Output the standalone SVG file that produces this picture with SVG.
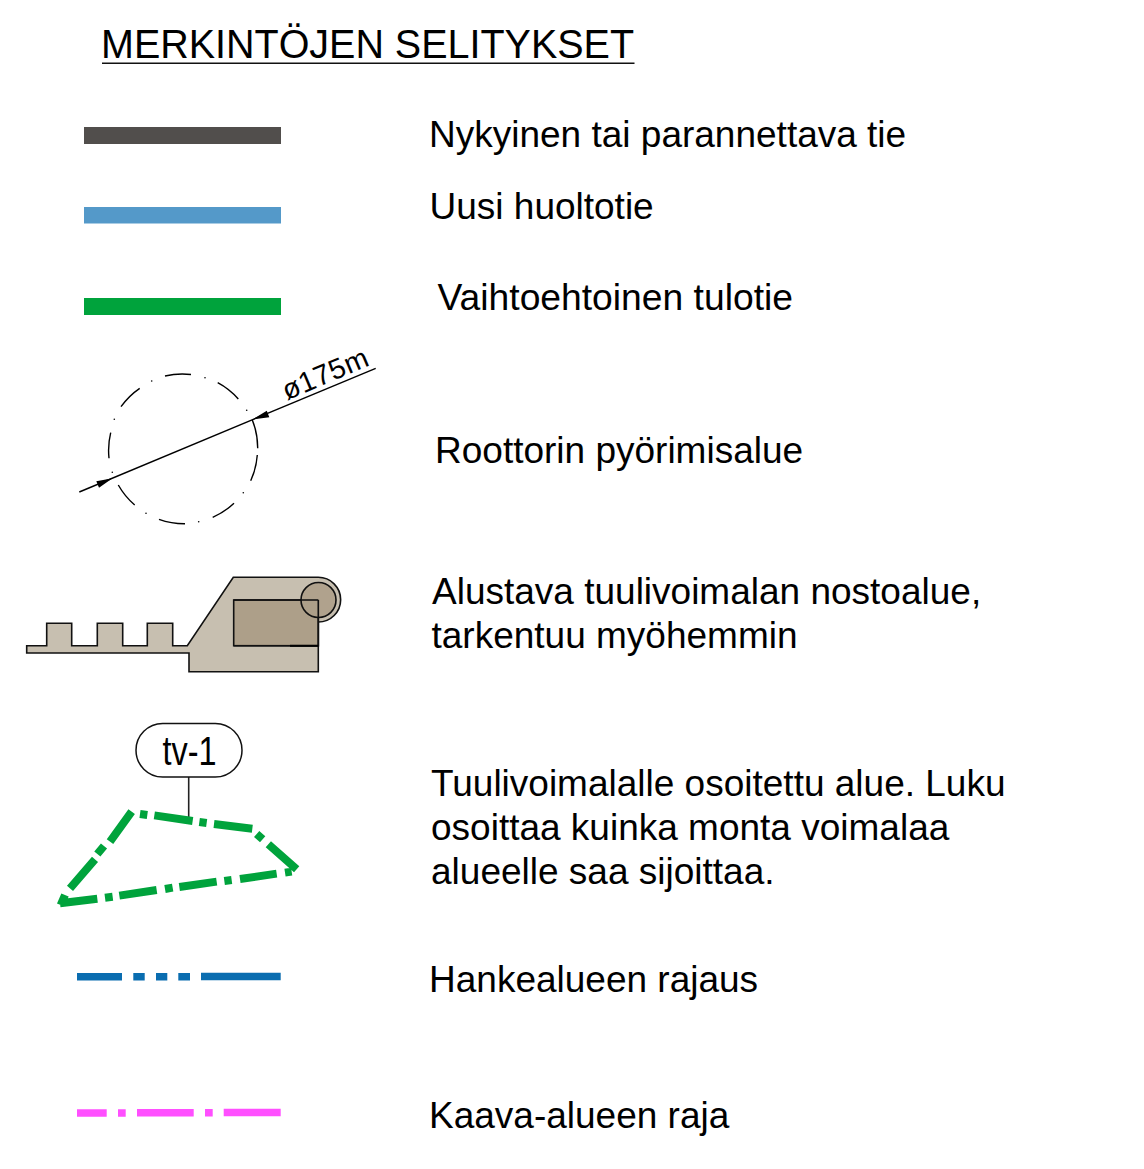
<svg xmlns="http://www.w3.org/2000/svg" width="1144" height="1169" viewBox="0 0 1144 1169">
<style>
text{font-family:"Liberation Sans",Arial,sans-serif;fill:#000}
.l{font-size:37px}
.bar{stroke:none}
.thin{fill:none;stroke:#000;stroke-width:1.4}
.key{stroke:#111;stroke-width:1.6}
.gd{fill:none;stroke:#00a33c;stroke-width:24}
</style>
<rect width="1144" height="1169" fill="#fff"/>
<g id="title"><text x="101" y="57.500" font-size="40" textLength="533" lengthAdjust="spacingAndGlyphs">MERKINTÖJEN SELITYKSET</text><path d="M102 63.200H634.500" stroke="#111" stroke-width="1.500" fill="none"/></g>
<g id="road-existing"><rect class="bar" x="84" y="127" width="197" height="17" fill="#514e4c"/><text class="l" x="429" y="147">Nykyinen tai parannettava tie</text></g>
<g id="road-new"><rect class="bar" x="84" y="207" width="197" height="16.500" fill="#5499c9"/><text class="l" x="429.500" y="219">Uusi huoltotie</text></g>
<g id="road-alt"><rect class="bar" x="84" y="298" width="197" height="17" fill="#00a33c"/><text class="l" x="437.500" y="310" textLength="355.500" lengthAdjust="spacingAndGlyphs">Vaihtoehtoinen tulotie</text></g>
<g id="rotor">
<path class="thin" d="M165 376A75 75 0 0 1 191 374.500M217.700 382.700A75 75 0 0 1 238.300 399M252.300 420A75 75 0 0 1 257.700 448.300M257.300 455A75 75 0 0 1 250.700 480.700M234 503.300A75 75 0 0 1 212.700 517.300M185 523.700A75 75 0 0 1 159 519.300M134.700 505A75 75 0 0 1 118.300 485M109 458.300A75 75 0 0 1 110.700 432.700M121 406.700A75 75 0 0 1 139.700 388.300"/>
<g fill="#000"><circle cx="151.700" cy="381" r=".8"/><circle cx="205" cy="377.700" r=".8"/><circle cx="246.700" cy="410.300" r=".8"/><circle cx="114.300" cy="419.300" r=".8"/><circle cx="112.300" cy="472.300" r=".8"/><circle cx="146" cy="513.300" r=".8"/><circle cx="198.700" cy="521.700" r=".8"/><circle cx="243.300" cy="492.700" r=".8"/></g>
<path class="thin" d="M79.300 492L375.700 368.300"/>
<path d="M112.500 478.300L99 487.800L96.300 481.300Z M252.700 419.400L269.300 417.300L266.800 410.700Z" fill="#000"/>
<text x="287" y="400.500" font-size="28.500" letter-spacing=".5" transform="rotate(-23 287 400.500)">ø175m</text>
<text class="l" x="435" y="463">Roottorin pyörimisalue</text>
</g>
<g id="lift-area">
<path class="key" fill="#c7bfb0" d="M26.700 645.700V653H189V671.700H318.300V622A22.300 22.300 0 0 0 318.300 577.300H233.300L187.300 645.700H172.700V623.300H147.300V645.700H122.700V623.300H97.300V645.700H71.700V623.300H46.700V645.700Z"/>
<rect class="key" x="233.700" y="600" width="84.600" height="45.700" fill="#ad9f89"/>
<circle class="key" cx="318.500" cy="600" r="17.500" fill="#ad9f89" fill-opacity=".9"/>
<path class="key" fill="none" d="M318.300 600V645.700H233.700M233.700 600H318.300"/>
<path d="M290 645.800H318.300" stroke="#000" stroke-width="2" fill="none"/>
<text class="l"><tspan x="432" y="604">Alustava tuulivoimalan nostoalue,</tspan><tspan x="431.500" y="648">tarkentuu myöhemmin</tspan></text>
</g>
<g id="turbine-area">
<path d="M188.700 776.700V817" stroke="#222" stroke-width="1.600" fill="none"/>
<rect x="136" y="723.500" width="106" height="53.500" rx="26.700" fill="#fff" stroke="#111" stroke-width="1.500"/>
<text x="162.500" y="765" font-size="41" textLength="54" lengthAdjust="spacingAndGlyphs">tv-1</text>
<path class="gd" transform="translate(40 710) scale(.33333)" d="M300 312L322 315M343 316L458 333M478 336L500 339M522 342L637 356M650 372L668 388M685 403L770 478M755 485L735 488M710 491L600 507M575 510L553 513M530 515L418 531M398 533L375 537M350 540L238 557M218 560L195 563M172 566L60 580M62 585L75 555M90 535L165 448M172 432L192 408M210 395L275 305"/>
<text class="l"><tspan x="431" y="796">Tuulivoimalalle osoitettu alue. Luku</tspan><tspan x="431" y="840">osoittaa kuinka monta voimalaa</tspan><tspan x="431" y="884">alueelle saa sijoittaa.</tspan></text>
</g>
<g id="project-boundary">
<path d="M77 976.700H122M133.300 976.700H144.700M156 976.700H167.300M178.300 976.700H190M201 976.500H280.700" stroke="#0a6db0" stroke-width="7.500" fill="none"/>
<text class="l" x="429" y="992">Hankealueen rajaus</text>
</g>
<g id="plan-boundary">
<path d="M77 1113H106.700M118 1113H125.700M137 1112.700H193.700M205 1112.700H212.700M223.700 1112.500H280.700" stroke="#ff4fff" stroke-width="7.500" fill="none"/>
<text class="l" x="429" y="1128">Kaava-alueen raja</text>
</g>
</svg>
